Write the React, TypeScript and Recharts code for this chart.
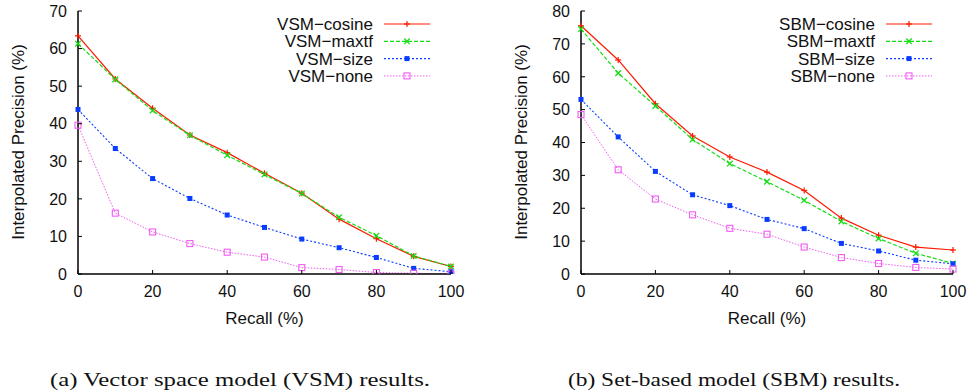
import React from 'react'
import { LineChart, Line, XAxis, YAxis } from 'recharts'

// recall levels (x axis)
const recall = [0, 10, 20, 30, 40, 50, 60, 70, 80, 90, 100]

// (a) vector space model
const vsmCosine = [63.4, 51.9, 44.1, 37.0, 32.3, 26.8, 21.5, 14.6, 9.4, 4.7, 2.0]
const vsmMaxtf = [61.3, 51.8, 43.5, 36.9, 31.6, 26.5, 21.4, 15.1, 10.2, 4.8, 2.0]
const vsmSize = [43.8, 33.4, 25.4, 20.1, 15.7, 12.4, 9.3, 7.0, 4.4, 1.5, 0.6]
const vsmNone = [39.6, 16.2, 11.2, 8.1, 5.8, 4.5, 1.7, 1.2, 0.4, 0.2, 0.0]

// (b) set-based model
const sbmCosine = [75.5, 65.1, 51.8, 42.0, 35.6, 31.0, 25.4, 17.0, 11.8, 8.2, 7.3]
const sbmMaxtf = [74.5, 61.1, 51.1, 40.9, 33.6, 28.1, 22.4, 16.0, 10.8, 6.3, 3.2]
const sbmSize = [53.1, 41.7, 31.2, 24.1, 20.8, 16.6, 13.8, 9.3, 7.0, 4.2, 3.1]
const sbmNone = [48.5, 31.7, 22.8, 18.0, 13.9, 12.1, 8.2, 5.0, 3.2, 2.0, 1.5]

const vsmNames = ['VSM\u2212cosine', 'VSM\u2212maxtf', 'VSM\u2212size', 'VSM\u2212none']
const sbmNames = ['SBM\u2212cosine', 'SBM\u2212maxtf', 'SBM\u2212size', 'SBM\u2212none']

const xTicks = [0, 20, 40, 60, 80, 100]
const vsmTicks = [0, 10, 20, 30, 40, 50, 60, 70]
const sbmTicks = [0, 10, 20, 30, 40, 50, 60, 70, 80]

const xLabel = 'Recall (%)'
const yLabel = 'Interpolated Precision (%)'
const vsmCaption = '(a) Vector space model (VSM) results.'
const sbmCaption = '(b) Set-based model (SBM) results.'

const SANS = '"Liberation Sans", Arial, Helvetica, sans-serif'
const SERIF = '"Liberation Serif", "Times New Roman", serif'

const lineStyles = [
  { color: '#ff1a00', dash: undefined as string | undefined, marker: 'plus', width: 1.2 },
  { color: '#14dc14', dash: '4 2', marker: 'cross', width: 1.2 },
  { color: '#0a3cff', dash: '2 2', marker: 'square', width: 1.1 },
  { color: '#f25cf2', dash: '1.5 1.5', marker: 'box', width: 1 },
]

function drawMarker(kind: string, color: string, cx: number, cy: number, key: string) {
  if (cx == null || cy == null || isNaN(cx) || isNaN(cy)) return <g key={key} />
  if (kind === 'plus') {
    return (
      <g key={key} stroke={color} strokeWidth={1.2}>
        <line x1={cx - 3} x2={cx + 3} y1={cy} y2={cy} />
        <line x1={cx} x2={cx} y1={cy - 3} y2={cy + 3} />
      </g>
    )
  }
  if (kind === 'cross') {
    return (
      <g key={key} stroke={color} strokeWidth={1.3}>
        <line x1={cx - 2.8} x2={cx + 2.8} y1={cy - 2.8} y2={cy + 2.8} />
        <line x1={cx - 2.8} x2={cx + 2.8} y1={cy + 2.8} y2={cy - 2.8} />
      </g>
    )
  }
  if (kind === 'square') {
    return <rect key={key} x={cx - 2.5} y={cy - 2.5} width={5} height={5} fill={color} />
  }
  return (
    <rect key={key} x={cx - 3} y={cy - 3} width={6} height={6} fill="none" stroke={color} strokeWidth={1.1} />
  )
}

const LeftTick = (props: any) => {
  const { x, y, payload } = props
  return (
    <g>
      <line x1={x} x2={x + 4} y1={y} y2={y} stroke="#000" strokeWidth={1} />
      <text x={x - 11} y={y} dy="0.36em" textAnchor="end" fontSize={16} fontFamily={SANS} fill="#111">
        {payload.value}
      </text>
    </g>
  )
}

const BottomTick = (props: any) => {
  const { x, y, payload } = props
  return (
    <g>
      <line x1={x} x2={x} y1={y} y2={y - 4} stroke="#000" strokeWidth={1} />
      <text x={x} y={y + 23} textAnchor="middle" fontSize={16} fontFamily={SANS} fill="#111">
        {payload.value}
      </text>
    </g>
  )
}

const RightTick = (props: any) => {
  const { x, y } = props
  return <line x1={x} x2={x - 4} y1={y} y2={y} stroke="#000" strokeWidth={1} />
}

const TopTick = (props: any) => {
  const { x, y } = props
  return <line x1={x} x2={x} y1={y} y2={y + 4} stroke="#000" strokeWidth={1} />
}

interface PanelProps {
  left: number
  width: number
  mLeft: number
  mRight: number
  names: string[]
  series: number[][]
  yTicks: number[]
  caption: string
  capX: number
  capW: number
}

function Panel(p: PanelProps) {
  const data = recall.map((r, i) => {
    const row: any = { recall: r }
    p.series.forEach((s, k) => {
      row['s' + k] = s[i]
    })
    return row
  })
  const yMax = p.yTicks[p.yTicks.length - 1]
  const plotLeft = p.mLeft + 60
  const plotRight = p.width - p.mRight
  const plotMid = (plotLeft + plotRight) / 2
  const axisLine = { stroke: '#000', strokeWidth: 1.5 }

  return (
    <div style={{ position: 'absolute', left: p.left, top: 0, width: p.width, height: 390 }}>
      <LineChart
        width={p.width}
        height={300}
        data={data}
        margin={{ top: 11, right: p.mRight, bottom: 6, left: p.mLeft }}
      >
        <XAxis
          dataKey="recall"
          type="number"
          domain={[0, 100]}
          ticks={xTicks}
          height={20}
          tickLine={false}
          tickSize={0}
          tickMargin={0}
          axisLine={axisLine}
          tick={BottomTick}
        />
        <XAxis
          xAxisId="t"
          orientation="top"
          type="number"
          domain={[0, 100]}
          ticks={xTicks}
          height={0}
          tickLine={false}
          tickSize={0}
          tickMargin={0}
          axisLine={axisLine}
          tick={TopTick}
          allowDataOverflow
        />
        <YAxis
          type="number"
          domain={[0, yMax]}
          ticks={p.yTicks}
          width={60}
          tickLine={false}
          tickSize={0}
          tickMargin={0}
          axisLine={axisLine}
          tick={LeftTick}
          allowDataOverflow
        />
        <YAxis
          yAxisId="r"
          orientation="right"
          type="number"
          domain={[0, yMax]}
          ticks={p.yTicks}
          width={0}
          tickLine={false}
          tickSize={0}
          tickMargin={0}
          axisLine={axisLine}
          tick={RightTick}
          allowDataOverflow
        />
        {lineStyles.map((st, k) => (
          <Line
            key={k}
            type="linear"
            dataKey={'s' + k}
            name={p.names[k]}
            stroke={st.color}
            strokeWidth={st.width}
            strokeDasharray={st.dash}
            dot={(d: any) => drawMarker(st.marker, st.color, d.cx, d.cy, 'd' + k + '-' + d.index)}
            activeDot={false}
            isAnimationActive={false}
          />
        ))}
      </LineChart>
      <svg
        width={p.width}
        height={390}
        style={{ position: 'absolute', left: 0, top: 0, pointerEvents: 'none' }}
      >
        <text
          transform={`translate(${plotLeft - 60}, 142) rotate(-90)`}
          textAnchor="middle"
          dy="0.36em"
          fontSize={17}
          fontFamily={SANS}
          fill="#111"
        >
          {yLabel}
        </text>
        <text x={plotMid} y={324} textAnchor="middle" fontSize={17} fontFamily={SANS} fill="#111">
          {xLabel}
        </text>
        {p.names.map((n, k) => {
          const st = lineStyles[k]
          const cy = 24 + k * 17.3
          return (
            <g key={n}>
              <text
                x={plotRight - 78}
                y={cy}
                dy="0.36em"
                textAnchor="end"
                fontSize={17}
                fontFamily={SANS}
                fill="#111"
              >
                {n}
              </text>
              <line
                x1={plotRight - 67}
                x2={plotRight - 21}
                y1={cy}
                y2={cy}
                stroke={st.color}
                strokeWidth={st.width}
                strokeDasharray={st.dash}
              />
              {drawMarker(st.marker, st.color, plotRight - 44, cy, 'lm' + k)}
            </g>
          )
        })}
        <text
          x={p.capX}
          y={386}
          textAnchor="middle"
          fontSize={19.5}
          fontFamily={SERIF}
          fill="#111"
          textLength={p.capW}
          lengthAdjust="spacingAndGlyphs"
        >
          {p.caption}
        </text>
      </svg>
    </div>
  )
}

export default function App() {
  return (
    <div style={{ position: 'absolute', left: 0, top: 0, width: 973, height: 390, background: '#fff' }}>
      <Panel
        left={0}
        width={490}
        mLeft={18}
        mRight={39}
        names={vsmNames}
        series={[vsmCosine, vsmMaxtf, vsmSize, vsmNone]}
        yTicks={vsmTicks}
        caption={vsmCaption}
        capX={240}
        capW={380}
      />
      <Panel
        left={490}
        width={483}
        mLeft={31}
        mRight={20}
        names={sbmNames}
        series={[sbmCosine, sbmMaxtf, sbmSize, sbmNone]}
        yTicks={sbmTicks}
        caption={sbmCaption}
        capX={244}
        capW={332}
      />
    </div>
  )
}
